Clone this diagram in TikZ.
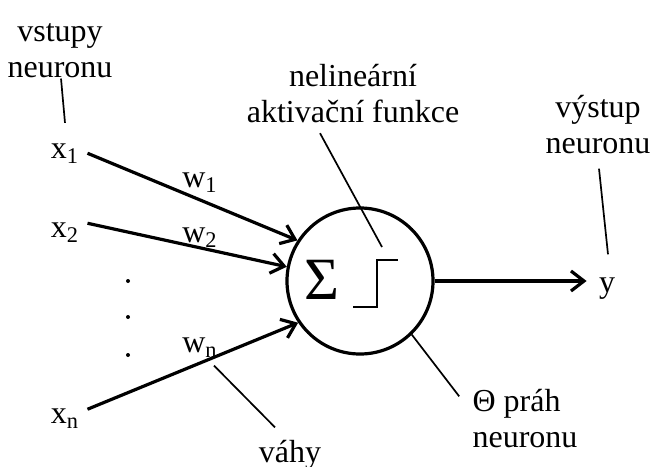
\documentclass[tikz,border=0pt]{standalone}
\usepackage{fontspec}
\setmainfont{Liberation Serif}
\usetikzlibrary{arrows.meta}
\tikzset{
  lbl/.style={font=\fontsize{16}{18}\selectfont, inner sep=2pt, align=center},
  sig/.style={line width=1.6pt, -{Straight Barb[length=6.5pt, width=10pt]}},
  ptr/.style={line width=0.85pt},
  neur/.style={circle, draw, line width=1.6pt, minimum size=73pt, inner sep=0pt},
}

\begin{document}
\begin{tikzpicture}[x=0.5pt,y=-0.5pt]
\useasboundingbox (0,0) rectangle (652,466);
% ================= neuron =================
\node[neur] (neuron) at (360,281) {};
\node[font=\fontsize{30}{30}\selectfont, inner sep=0pt] (sum) at (322,280) {Σ};
\draw[line width=1pt] (353,307) -| (377,260) -- (398,260);
% ================= inputs =================
\node[lbl, anchor=base] (x1) at (65,158) {x\textsubscript{1}};
\node[lbl, anchor=base] (x2) at (65,237) {x\textsubscript{2}};
\node[lbl, anchor=base] (xn) at (65,423) {x\textsubscript{n}};
\foreach \y in {281,317,355}{\fill (128,\y) circle (1pt);}
\draw[sig] ([xshift=2pt]x1.east) -- (neuron.147);
\draw[sig] ([xshift=2pt,yshift=4.5pt]x2.east) -- (neuron.169);
\draw[sig] ([xshift=2pt,yshift=4.5pt]xn.east) -- (neuron.-146);
\node[lbl, anchor=base] (w1) at (200,187) {w\textsubscript{1}};
\node[lbl, anchor=base] (w2) at (200,242) {w\textsubscript{2}};
\node[lbl, anchor=base] (wn) at (200,352) {w\textsubscript{n}};
% ================= output =================
\node[lbl, anchor=base] (y) at (607,292) {y};
\draw[sig, shorten >=4pt] (neuron.east) -- (neuron.east -| y.west);
% ================= labels =================
\node[lbl] (inlbl) at (60,51) {vstupy\\neuronu};
\draw[ptr] ([xshift=0.5pt,yshift=2pt]inlbl.south) -- ([yshift=8pt]x1.north);
\node[lbl] (actlbl) at (353,93.5) {nelineární\\aktivační funkce};
\draw[ptr] ([xshift=-16.5pt,yshift=-3pt]actlbl.south) -- ([xshift=11pt,yshift=17pt]neuron.center);
\node[lbl] (outlbl) at (598,125) {výstup\\neuronu};
\draw[ptr] ([xshift=0.5pt,yshift=-5pt]outlbl.south) -- ([xshift=0.5pt,yshift=9.3pt]y.north);
\node[lbl, align=left] (thlbl) at (525,419) {Θ práh\\neuronu};
\draw[ptr] (neuron.-46) -- ([xshift=-4.5pt,yshift=-5.5pt]thlbl.north west);
\node[lbl, anchor=base] (vahy) at (290,462) {váhy};
\draw[ptr] ([xshift=7pt,yshift=-2pt]wn.south) -- ([xshift=-7.5pt,yshift=4pt]vahy.north);
\end{tikzpicture}
\end{document}
